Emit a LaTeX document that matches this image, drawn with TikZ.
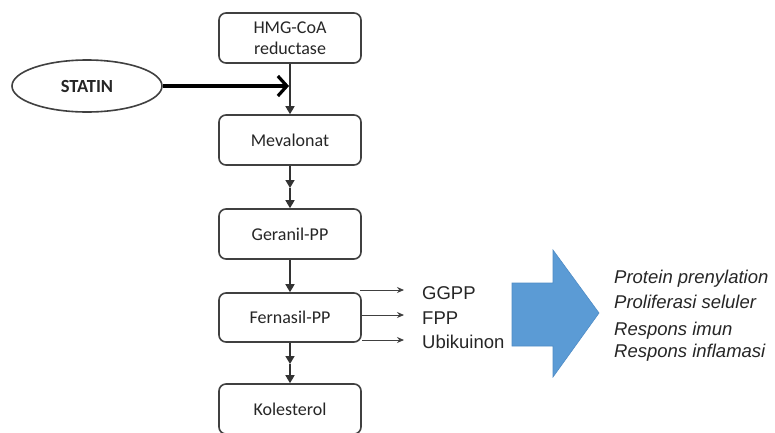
\documentclass[tikz,border=0pt]{standalone}
\usepackage{fontspec}
\setmainfont{Carlito}
\newfontfamily\arialf{Liberation Sans}
\usetikzlibrary{arrows.meta,shapes.geometric}
\definecolor{boxline}{HTML}{404040}
\definecolor{blueA}{HTML}{5B9BD5}
\definecolor{blueB}{HTML}{4F8CC6}
\definecolor{txt}{HTML}{262626}
\begin{document}
\begin{tikzpicture}[x=1pt,y=-1pt,
  stepbox/.style={draw=boxline, line width=1.6pt, rounded corners=7pt,
    minimum width=142pt, minimum height=50pt, inner sep=0pt,
    font=\fontsize{18}{21}\selectfont, align=center, text=txt},
  vline/.style={draw=boxline!80!black, line width=1.5pt, -{Triangle[length=8pt,width=9pt]}},
  sidearr/.style={draw=boxline, line width=0.9pt, -{Stealth[length=7pt,width=6pt]}, shorten >=18pt},
  prod/.style={anchor=base west, inner sep=0pt, font=\arialf\fontsize{18.5}{20}\selectfont, text=txt},
  effect/.style={anchor=base west, inner sep=0pt, font=\arialf\itshape\fontsize{18.5}{20}\selectfont, text=txt}]
\useasboundingbox (0,0) rectangle (775,432);
\clip (0,0) rectangle (775,432);
\fill[white] (0,0) rectangle (775,432);

% boxes
\node[stepbox] (hmg) at (290,38) {HMG-CoA\\reductase};
\node[stepbox] (mev) at (290,140) {Mevalonat};
\node[stepbox] (ger) at (290,234) {Geranil-PP};
\node[stepbox, minimum height=49pt] (fer) at (290,317.5) {Fernasil-PP};
\node[stepbox] (kol) at (290,409) {Kolesterol};

% statin
\node[draw=boxline, line width=1.6pt, ellipse, minimum width=150pt, minimum height=52pt,
  font=\bfseries\fontsize{18.5}{21}\selectfont, text=txt] (statin) at (87,86) {STATIN};
\coordinate (hit) at (289,86);
\draw[draw=black, line width=3.2pt, -{Straight Barb[length=9pt,width=20pt]}] (statin.east) -- (hit);

% vertical connectors
\draw[vline] (hmg.south) -- (mev.north);
\coordinate (m1) at (290,188);
\draw[vline] (mev.south) -- (m1);
\draw[vline] (m1) -- (ger.north);
\draw[vline] (ger.south) -- (fer.north);
\coordinate (f1) at (290,364);
\draw[vline] (fer.south) -- (f1);
\draw[vline] (f1) -- (kol.north);

% products
\node[prod] (gg) at (422,299) {GGPP};
\node[prod] (fpp) at (422,324) {FPP};
\node[prod] (ubi) at (422,348) {Ubikuinon};
\coordinate (s1) at (360,290);
\coordinate (s2) at (362,315);
\coordinate (s3) at (362,340);
\draw[sidearr] (s1) -- (s1 -| gg.west);
\draw[sidearr] (s2) -- (s2 -| fpp.west);
\draw[sidearr] (s3) -- (s3 -| ubi.west);

% blue arrow
\filldraw[fill=blueA, draw=blueB, line width=0.6pt]
  (512,283) -- (553,283) -- (553,250) -- (599,313) -- (553,377) -- (553,346) -- (512,346) -- cycle;

% effects
\node[effect] (e1) at (614,283) {Protein prenylation};
\node[effect] (e2) at (614,308) {Proliferasi seluler};
\node[effect] (e3) at (614,335) {Respons imun};
\node[effect] (e4) at (614,357) {Respons inflamasi};
\end{tikzpicture}
\end{document}
